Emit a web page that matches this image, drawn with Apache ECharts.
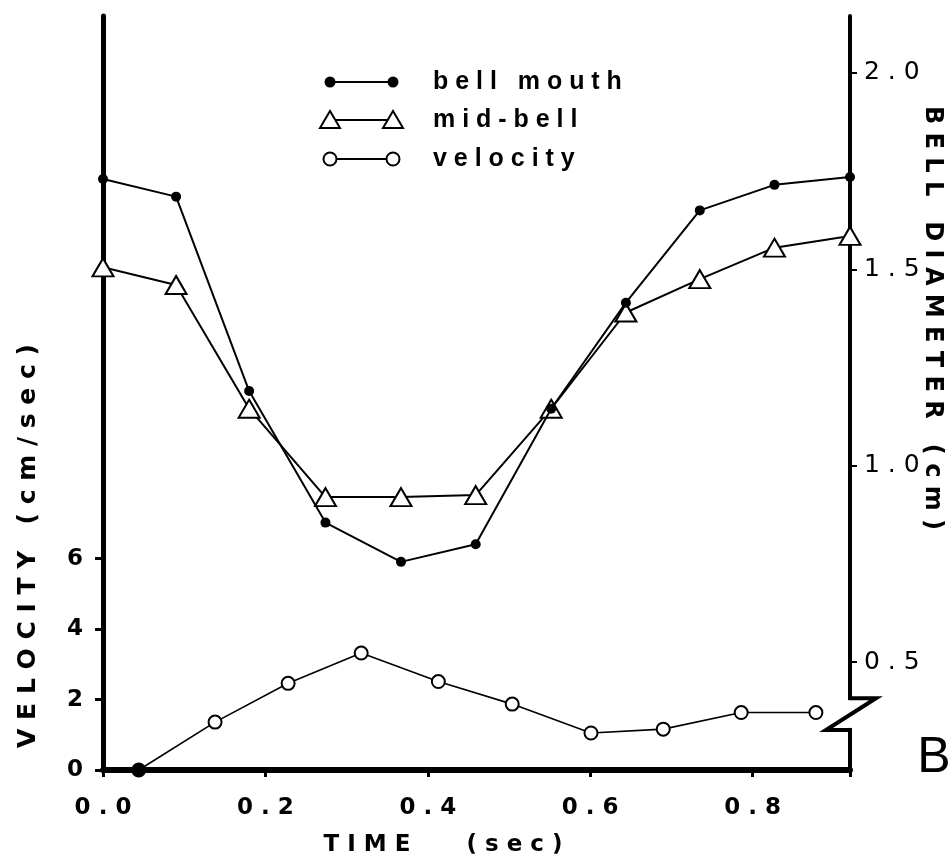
<!DOCTYPE html>
<html>
<head>
<meta charset="utf-8">
<script src="https://cdn.jsdelivr.net/npm/echarts@6/dist/echarts.min.js"></script>
<style>
  html, body { margin: 0; padding: 0; background: #fff; }
  #main { width: 949px; height: 863px; }
</style>
</head>
<body>
<div id="main"></div>
<script>
// bell diameter (cm)
var times = [0, 0.09, 0.18, 0.274, 0.367, 0.459, 0.552, 0.644, 0.735, 0.827, 0.92];
var bellMouth = [1.73, 1.685, 1.19, 0.855, 0.755, 0.80, 1.145, 1.415, 1.65, 1.715, 1.735];
var midBell = [1.505, 1.46, 1.145, 0.92, 0.92, 0.925, 1.145, 1.39, 1.475, 1.555, 1.585];

// velocity (cm/sec), plotted between frames
var velTimes = [0.044, 0.138, 0.228, 0.318, 0.413, 0.504, 0.601, 0.690, 0.786, 0.878];
var velocity = [0, 1.36, 2.46, 3.32, 2.51, 1.87, 1.05, 1.16, 1.63, 1.63];

var xTicks = [0, 0.2, 0.4, 0.6, 0.8];
var velTicks = [0, 2, 4, 6];
var diamTicks = [0.5, 1.0, 1.5, 2.0];

var legendNames = ['bell mouth', 'mid-bell', 'velocity'];

// wide letter spacing like the old lettering
function spaced(s) {
    return s.split('').join(' ');
}

function pairs(xs, ys) {
    var out = [];
    for (var i = 0; i < xs.length; i++) {
        out.push([xs[i], ys[i]]);
    }
    return out;
}

var chart = echarts.init(document.getElementById('main'));

var velData = pairs(velTimes, velocity);
velData[0] = {value: velData[0], itemStyle: {color: '#000'}};

var option = {
    animation: false,
    backgroundColor: '#fff',
    grid: {left: 103, right: 99, top: 16, bottom: 93},
    xAxis: {
        type: 'value',
        min: 0,
        max: 0.92,
        splitLine: {show: false},
        axisLine: {show: true, lineStyle: {color: '#000', width: 6}},
        axisTick: {show: true, customValues: [0, 0.2, 0.4, 0.6, 0.8, 0.92], length: 7, lineStyle: {color: '#000', width: 3}},
        axisLabel: {
            customValues: xTicks,
            formatter: function (v) { return spaced(v.toFixed(1)); },
            color: '#000', fontFamily: 'DejaVu Sans', fontWeight: 'bold', fontSize: 23, margin: 27
        }
    },
    yAxis: [
        {
            type: 'value',
            position: 'left',
            min: 0,
            max: 21.4,
            splitLine: {show: false},
            axisLine: {show: true, onZero: false, lineStyle: {color: '#000', width: 5}},
            axisTick: {show: true, customValues: velTicks, length: 8, lineStyle: {color: '#000', width: 3}},
            axisLabel: {
                customValues: velTicks,
                color: '#000', fontFamily: 'DejaVu Sans', fontWeight: 'bold', fontSize: 23, margin: 20
            }
        },
        {
            type: 'value',
            position: 'right',
            min: 0.225,
            max: 2.145,
            splitLine: {show: false},
            axisLine: {show: true, onZero: false, lineStyle: {color: '#000', width: 4}},
            axisTick: {show: true, customValues: diamTicks, length: 7, lineStyle: {color: '#000', width: 2}},
            axisLabel: {
                customValues: diamTicks,
                formatter: function (v) { return spaced(v.toFixed(1)); },
                color: '#000', fontFamily: 'DejaVu Sans', fontSize: 25, margin: 14
            }
        }
    ],
    series: [
        {
            name: legendNames[0],
            type: 'line',
            yAxisIndex: 1,
            data: pairs(times, bellMouth),
            symbol: 'circle',
            symbolSize: 10,
            itemStyle: {color: '#000'},
            lineStyle: {color: '#000', width: 2},
            z: 4
        },
        {
            name: legendNames[1],
            type: 'line',
            yAxisIndex: 1,
            data: pairs(times, midBell),
            symbol: 'triangle',
            symbolSize: [21, 18],
            itemStyle: {color: '#fff', borderColor: '#000', borderWidth: 2},
            lineStyle: {color: '#000', width: 2},
            z: 3
        },
        {
            name: legendNames[2],
            type: 'line',
            yAxisIndex: 0,
            data: velData,
            symbol: 'circle',
            symbolSize: 13,
            itemStyle: {color: '#fff', borderColor: '#000', borderWidth: 2},
            lineStyle: {color: '#000', width: 1.6},
            z: 3
        }
    ]
};

chart.setOption(option);

// legend, titles, panel letter and the axis break
var txt = {fill: '#000', fontFamily: 'DejaVu Sans', fontWeight: 'bold', fontSize: 24};
function text(s, x, y, extra, rot) {
    var style = Object.assign({}, txt, {text: s, align: 'center', verticalAlign: 'middle'}, extra || {});
    return {type: 'text', x: x, y: y, rotation: rot || 0, style: style, z: 10};
}

var rowY = [82, 120, 159];
var lx0 = 330, lx1 = 393;
var g = [];
for (var i = 0; i < 3; i++) {
    g.push({type: 'line', shape: {x1: lx0, y1: rowY[i], x2: lx1, y2: rowY[i]}, style: {stroke: '#000', lineWidth: 2}, z: 10});
    [lx0, lx1].forEach(function (cx) {
        if (i === 0) {
            g.push({type: 'circle', shape: {cx: cx, cy: rowY[i], r: 5.5}, style: {fill: '#000'}, z: 11});
        } else if (i === 1) {
            g.push({type: 'polygon', shape: {points: [[cx - 10, rowY[i] + 8], [cx + 10, rowY[i] + 8], [cx, rowY[i] - 9]]},
                style: {fill: '#fff', stroke: '#000', lineWidth: 2}, z: 11});
        } else {
            g.push({type: 'circle', shape: {cx: cx, cy: rowY[i], r: 6.5}, style: {fill: '#fff', stroke: '#000', lineWidth: 2}, z: 11});
        }
    });
    g.push(text(spaced(legendNames[i]), 433, rowY[i], {align: 'left', fontFamily: 'Liberation Sans', fontSize: 25}));
}

g.push(text(spaced('TIME') + '       ' + spaced('(sec)'), 443, 845, {fontSize: 23}));
g.push(text(spaced('VELOCITY') + '   ' + spaced('(cm/sec)'), 28, 546, {fontSize: 25}, Math.PI / 2));
g.push(text(spaced('BELL') + '   ' + spaced('DIAMETER') + '   ' + spaced('(cm)'), 932, 318, {fontSize: 24}, -Math.PI / 2));
g.push(text('B', 934, 758, {fontFamily: 'Liberation Sans', fontWeight: 'normal', fontSize: 50}));

// zigzag break on the diameter axis
var xR = chart.convertToPixel({xAxisIndex: 0}, 0.92);
var yA = chart.convertToPixel({yAxisIndex: 1}, 0.408);
var yB = chart.convertToPixel({yAxisIndex: 1}, 0.327);
g.push({type: 'rect', shape: {x: xR - 6, y: yA + 2, width: 12, height: yB - yA - 4}, style: {fill: '#fff'}, z: 10});
g.push({type: 'polyline', shape: {points: [[xR, yA], [xR + 26, yA], [xR - 24, yB], [xR, yB]]},
    style: {stroke: '#000', lineWidth: 4, fill: null, lineJoin: 'miter'}, z: 11});

chart.setOption({graphic: g});
</script>
</body>
</html>
